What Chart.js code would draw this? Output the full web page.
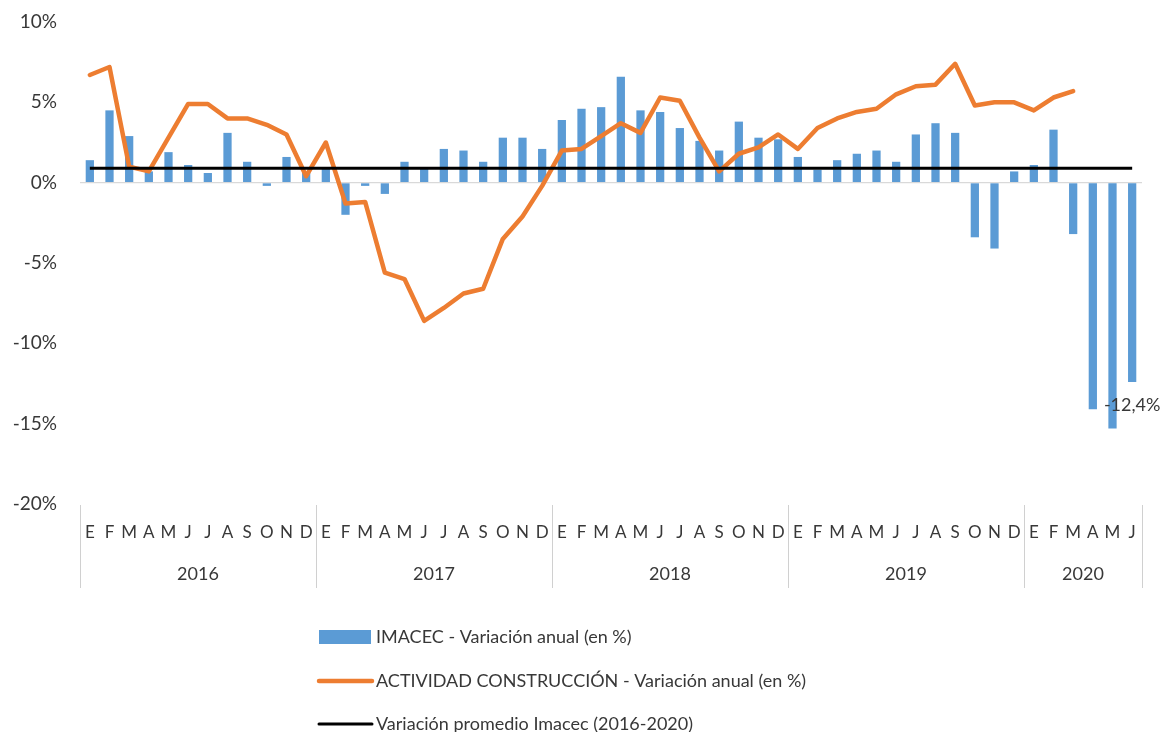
<!DOCTYPE html>
<html><head><meta charset="utf-8">
<script src="https://cdn.jsdelivr.net/npm/chart.js@4.4.0/dist/chart.umd.min.js"></script>
<style>html,body{margin:0;padding:0;background:#fff;}#wrap{width:1168px;height:732px;position:relative;}</style>
</head><body><div id="wrap"><canvas id="c" width="1168" height="732"></canvas></div>
<script>
const years = ['2016','2017','2018','2019','2020'];
const monthsPerYear = [12,12,12,12,6];
const monthLetters = ['E','F','M','A','M','J','J','A','S','O','N','D'];
const yTicks = [-20,-15,-10,-5,0,5,10];

const imacec = [1.4,4.5,2.9,0.7,1.9,1.1,0.6,3.1,1.3,-0.2,1.6,0.6,
  0.9,-2.0,-0.2,-0.7,1.3,0.9,2.1,2.0,1.3,2.8,2.8,2.1,
  3.9,4.6,4.7,6.6,4.5,4.4,3.4,2.6,2.0,3.8,2.8,2.7,
  1.6,0.8,1.4,1.8,2.0,1.3,3.0,3.7,3.1,-3.4,-4.1,0.7,
  1.1,3.3,-3.2,-14.1,-15.3,-12.4];

const construccion = [6.7,7.2,1.0,0.7,2.8,4.9,4.9,4.0,4.0,3.6,3.0,0.4,
  2.5,-1.3,-1.2,-5.6,-6.0,-8.6,-7.8,-6.9,-6.6,-3.5,-2.1,-0.2,
  2.0,2.1,2.9,3.7,3.1,5.3,5.1,2.8,0.7,1.8,2.2,3.0,
  2.1,3.4,4.0,4.4,4.6,5.5,6.0,6.1,7.4,4.8,5.0,5.0,
  4.5,5.3,5.7,null,null,null];

const promedioImacec = [0.9,0.9,0.9,0.9,0.9,0.9,0.9,0.9,0.9,0.9,0.9,0.9,
  0.9,0.9,0.9,0.9,0.9,0.9,0.9,0.9,0.9,0.9,0.9,0.9,
  0.9,0.9,0.9,0.9,0.9,0.9,0.9,0.9,0.9,0.9,0.9,0.9,
  0.9,0.9,0.9,0.9,0.9,0.9,0.9,0.9,0.9,0.9,0.9,0.9,
  0.9,0.9,0.9,0.9,0.9,0.9];

const seriesNames = ['IMACEC - Variación anual (en %)',
  'ACTIVIDAD CONSTRUCCIÓN - Variación anual (en %)',
  'Variación promedio Imacec (2016-2020)'];
const labelledIndex = 53;

const labels = [];
years.forEach((y, gi) => { for (let m = 0; m < monthsPerYear[gi]; m++) labels.push(monthLetters[m]); });

const FONT = 'Lato, "Open Sans", sans-serif';
const TXT = '#383838';

const extras = {
  id: 'extras',
  afterDatasetsDraw(chart) {
    const ctx = chart.ctx;
    const el = chart.getDatasetMeta(0).data[labelledIndex];
    const v = imacec[labelledIndex];
    ctx.save();
    ctx.font = '18px ' + FONT;
    ctx.fillStyle = TXT;
    ctx.textAlign = 'center';
    ctx.textBaseline = 'middle';
    ctx.fillText(v.toFixed(1).replace('.', ',') + '%', el.x, el.y + 23);
    ctx.restore();
  },
  afterDraw(chart) {
    const ctx = chart.ctx;
    const xs = chart.scales.x;
    const area = chart.chartArea;
    ctx.save();
    let start = 0;
    const bounds = [area.left];
    years.forEach((y, gi) => {
      const end = start + monthsPerYear[gi] - 1;
      let right;
      if (gi === years.length - 1) right = area.right;
      else right = (xs.getPixelForValue(end) + xs.getPixelForValue(end + 1)) / 2;
      bounds.push(right);
      const left = bounds[gi];
      ctx.font = '18px ' + FONT;
      ctx.fillStyle = TXT;
      ctx.textAlign = 'center';
      ctx.textBaseline = 'middle';
      ctx.fillText(y, (left + right) / 2, 574);
      start = end + 1;
    });
    ctx.strokeStyle = '#d0d0d0';
    ctx.lineWidth = 1;
    bounds.forEach(b => {
      const x = Math.round(b) + 0.5;
      ctx.beginPath(); ctx.moveTo(x, 505); ctx.lineTo(x, 588); ctx.stroke();
    });
    const rows = [637, 681, 724];
    const ds = chart.data.datasets;
    ds.forEach((d, i) => {
      const y = rows[i];
      if (d.type === 'bar') {
        ctx.fillStyle = d.backgroundColor;
        ctx.fillRect(319, y - 7, 52, 14);
      } else {
        ctx.strokeStyle = d.borderColor;
        ctx.lineWidth = d.borderWidth;
        ctx.lineCap = 'round';
        ctx.beginPath(); ctx.moveTo(319, y); ctx.lineTo(372, y); ctx.stroke();
      }
      ctx.font = '18px ' + FONT;
      ctx.fillStyle = TXT;
      ctx.textAlign = 'left';
      ctx.textBaseline = 'middle';
      ctx.fillText(d.label, 376, y);
    });
    ctx.restore();
  }
};

new Chart(document.getElementById('c'), {
  data: {
    labels: labels,
    datasets: [
      { type: 'bar', label: seriesNames[0], data: imacec, backgroundColor: '#5b9bd5',
        barPercentage: 0.42, categoryPercentage: 1.0, order: 3 },
      { type: 'line', label: seriesNames[1], data: construccion, borderColor: '#ed7d31',
        borderWidth: 4.5, pointRadius: 0, tension: 0, borderJoinStyle: 'round', borderCapStyle: 'round',
        spanGaps: false, order: 2 },
      { type: 'line', label: seriesNames[2], data: promedioImacec, borderColor: '#000000',
        borderWidth: 3, pointRadius: 0, tension: 0, order: 1 }
    ]
  },
  options: {
    responsive: false,
    devicePixelRatio: 1,
    animation: false,
    layout: { padding: { top: 22, right: 26, bottom: 0, left: 0 } },
    plugins: { legend: { display: false }, tooltip: { enabled: false } },
    scales: {
      x: {
        type: 'category',
        offset: true,
        grid: { display: false },
        border: { display: false },
        ticks: { autoSkip: false, maxRotation: 0, minRotation: 0, padding: 10,
          font: { family: FONT, size: 17 }, color: TXT },
        afterFit(s) { s.height = 228; s.paddingTop = 0; s.paddingBottom = 0; }
      },
      y: {
        min: -20, max: 10,
        afterBuildTicks(s) { s.ticks = yTicks.map(v => ({ value: v })); },
        ticks: { padding: 23, font: { family: FONT, size: 19 }, color: TXT,
          callback: v => v + '%' },
        grid: { drawTicks: false, lineWidth: 1.3,
          color: c => (c.tick && c.tick.value === 0) ? '#d9d9d9' : 'rgba(0,0,0,0)' },
        border: { display: false },
        afterFit(s) { s.width = 80; s.paddingTop = 0; s.paddingBottom = 0; }
      }
    }
  },
  plugins: [extras]
});
</script></body></html>
